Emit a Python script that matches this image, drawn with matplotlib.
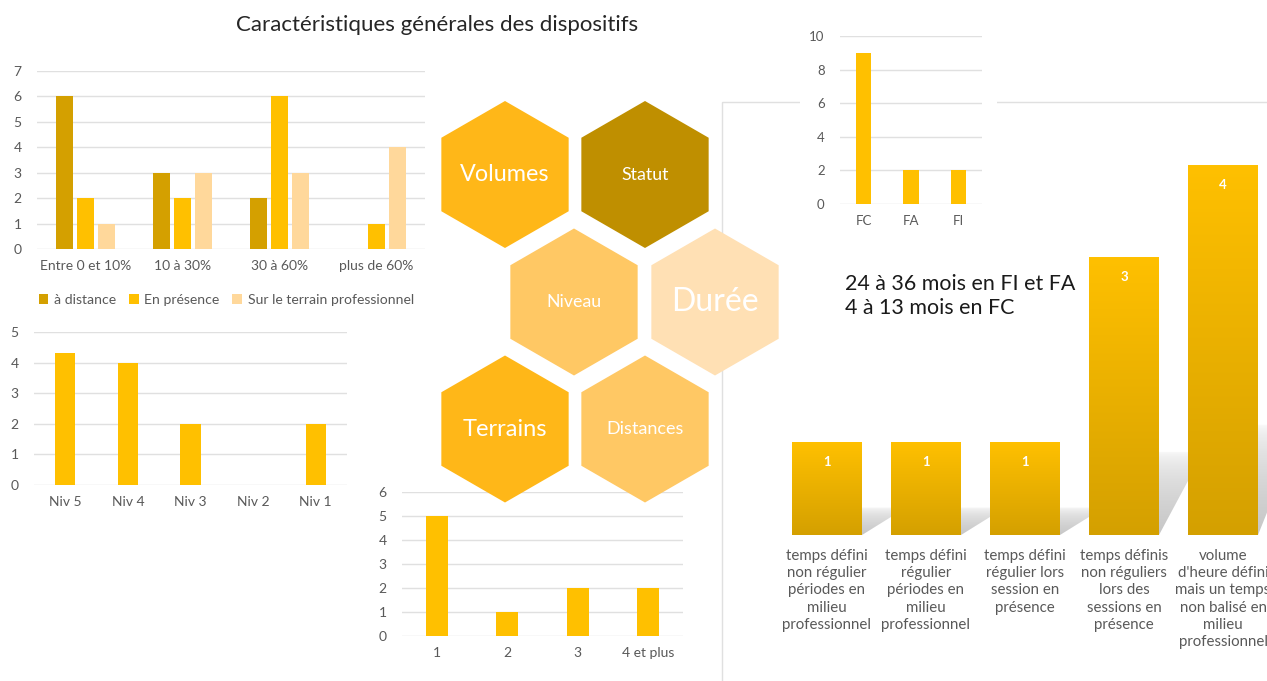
import numpy as np
import matplotlib
matplotlib.use("Agg")
import matplotlib.pyplot as plt
from matplotlib.patches import RegularPolygon, Rectangle, Polygon
from matplotlib.colors import LinearSegmentedColormap

plt.rcParams['font.family'] = ['Lato', 'DejaVu Sans']

# --- data ---
volume_cats = ['Entre 0 et 10%', '10 à 30%', '30 à 60%', 'plus de 60%']
volume_series = ['à distance', 'En présence', 'Sur le terrain professionnel']
vol_distance = [6, 3, 2, 0]
vol_presence = [2, 2, 6, 1]
vol_terrain = [1, 3, 3, 4]

niv_cats = ['Niv 5', 'Niv 4', 'Niv 3', 'Niv 2', 'Niv 1']
niv_values = [4.3, 4, 2, 0, 2]

terrain_cats = ['1', '2', '3', '4 et plus']
terrain_values = [5, 1, 2, 2]

statut_cats = ['FC', 'FA', 'FI']
statut_values = [9, 2, 2]

dist_cats = ['temps défini\nnon régulier\npériodes en\nmilieu\nprofessionnel',
             'temps défini\nrégulier\npériodes en\nmilieu\nprofessionnel',
             'temps défini\nrégulier lors\nsession en\nprésence',
             'temps définis\nnon réguliers\nlors des\nsessions en\nprésence',
             "volume\nd'heure défini\nmais un temps\nnon balisé en\nmilieu\nprofessionnel"]
dist_values = [1, 1, 1, 3, 4]

hex_labels = ['Volumes', 'Statut', 'Niveau', 'Durée', 'Terrains', 'Distances']

duree_text = '24 à 36 mois en FI et FA\n4 à 13 mois en FC'
title = 'Caractéristiques générales des dispositifs'

# --- styles ---
W, H = 1267, 681
GOLD_DARK = '#D4A000'
GOLD = '#FFC000'
PEACH = '#FFD89B'
GRID = '#E0E0E0'
TXT = '#595959'

fig = plt.figure(figsize=(W / 100, H / 100), dpi=100)


def ax_px(left, top, right, bottom):
    return fig.add_axes([left / W, 1 - bottom / H, (right - left) / W, (bottom - top) / H])


def style(ax, ymax, ystep, fs=10):
    ax.set_ylim(0, ymax)
    ax.set_yticks(np.arange(0, ymax + 0.01, ystep))
    ax.yaxis.grid(True, color=GRID, lw=1)
    ax.set_axisbelow(True)
    for s in ax.spines.values():
        s.set_visible(False)
    ax.tick_params(length=0, colors=TXT, labelsize=fs)
    ax.tick_params(axis='y', pad=11)
    ax.tick_params(axis='x', pad=8)
    ax.set_facecolor('none')


# chart 1 : volumes
ax1 = ax_px(37, 71, 425, 249)
x = np.arange(len(volume_cats))
step, bw = 0.217, 0.175
b1 = ax1.bar(x - step, vol_distance, bw, color=GOLD_DARK, label=volume_series[0])
b2 = ax1.bar(x, vol_presence, bw, color=GOLD, label=volume_series[1])
b3 = ax1.bar(x + step, vol_terrain, bw, color=PEACH, label=volume_series[2])
ax1.set_xlim(-0.5, len(volume_cats) - 0.5)
ax1.set_xticks(x, volume_cats)
style(ax1, 7, 1)
fig.legend(handles=[b1, b2, b3], loc='center left', bbox_to_anchor=(33 / W, 1 - 300 / H),
           ncol=3, frameon=False, handlelength=0.7, handleheight=0.7, columnspacing=0.9,
           handletextpad=0.4, fontsize=10.1, labelcolor=TXT, borderaxespad=0)

# chart 2 : niveau
ax2 = ax_px(34, 332, 347, 485)
ax2.bar(range(len(niv_cats)), niv_values, 0.32, color=GOLD)
ax2.set_xlim(-0.5, len(niv_cats) - 0.5)
ax2.set_xticks(range(len(niv_cats)), niv_cats)
style(ax2, 5, 1)

# chart 3 : terrains
ax3 = ax_px(402, 492, 683, 636)
ax3.bar(range(len(terrain_cats)), terrain_values, 0.31, color=GOLD)
ax3.set_xlim(-0.5, len(terrain_cats) - 0.5)
ax3.set_xticks(range(len(terrain_cats)), terrain_cats)
style(ax3, 6, 1)

# overlay : frame, hexagons, texts
ov = fig.add_axes([0, 0, 1, 1])
ov.set_xlim(0, W)
ov.set_ylim(H, 0)
ov.axis('off')
ov.add_patch(Rectangle((722, 102), 600, 640, fill=False, ec=GRID, lw=1, zorder=1))
ov.add_patch(Rectangle((800, 95), 197, 20, fc='white', ec='none', zorder=2))
hex_pos = [(505, 174.5), (645, 174.5), (574, 302), (715, 302), (505, 429), (645, 429)]
hex_colors = ['#FFB718', '#BF8F00', '#FFC864', '#FFE0B4', '#FFB718', '#FFC864']
hex_sizes = [16.8, 12.8, 12.8, 23, 17, 13]
for (cx, cy), lab, c, fs in zip(hex_pos, hex_labels, hex_colors, hex_sizes):
    ov.add_patch(RegularPolygon((cx, cy), 6, radius=73.5, orientation=0, fc=c, ec='none', zorder=3))
    ov.text(cx, cy, lab, color='white', fontsize=fs, ha='center', va='center', zorder=4)
ov.text(437, 25, title, fontsize=16, ha='center', va='center', color='#262626')
ov.text(845, 296, duree_text, fontsize=15.4, ha='left', va='center', color='#1a1a1a',
        linespacing=1.25)

# chart 4 : statut
ax4 = ax_px(840, 36, 982, 204)
ax4.bar(range(len(statut_cats)), statut_values, 0.32, color=GOLD)
ax4.set_xlim(-0.5, len(statut_cats) - 0.5)
ax4.set_xticks(range(len(statut_cats)), statut_cats)
style(ax4, 10, 2, fs=9.5)

# chart 5 : distances (gradient bars with soft perspective shadow)
ax5 = ax_px(777.5, 147, 1272.5, 535)
ax5.set_facecolor('none')
xs = np.arange(len(dist_cats))
bw5 = 0.707
grad_cmap = LinearSegmentedColormap.from_list('g', [GOLD_DARK, GOLD])
grad = np.linspace(0, 1, 256).reshape(-1, 1)
shade = np.zeros((256, 1, 4))
shade[..., :3] = 0.74
shade[:, 0, 3] = np.linspace(1.0, 0.0, 256) ** 0.5 * 0.85
for xi, v in zip(xs, dist_values):
    x0, x1 = xi - bw5 / 2, xi + bw5 / 2
    dx, dy = 0.45, 0.3 * v
    poly = Polygon([(x0, 0), (x1, 0), (x1 + dx, dy), (x0 + dx, dy)], fc='none', ec='none')
    ax5.add_patch(poly)
    sh = ax5.imshow(shade, extent=[x0, x1 + dx, 0, dy], origin='lower', aspect='auto', zorder=1)
    sh.set_clip_path(poly)
    ax5.imshow(grad, extent=[x0, x1, 0, v], origin='lower', aspect='auto', cmap=grad_cmap, zorder=2)
    ax5.annotate(str(v), (xi, v), xytext=(0, -14), textcoords='offset points', ha='center',
                 va='center', color='white', fontsize=9.5, fontweight='bold', zorder=3)
ax5.set_xlim(-0.5, len(dist_cats) - 0.5)
ax5.set_ylim(0, 4.2)
ax5.set_xticks(xs, dist_cats)
ax5.set_yticks([])
for s in ax5.spines.values():
    s.set_visible(False)
ax5.tick_params(length=0, colors=TXT, labelsize=10.8, pad=10)
for t in ax5.get_xticklabels():
    t.set_linespacing(1.3)

fig.savefig('out.png', dpi=100, facecolor='white')
